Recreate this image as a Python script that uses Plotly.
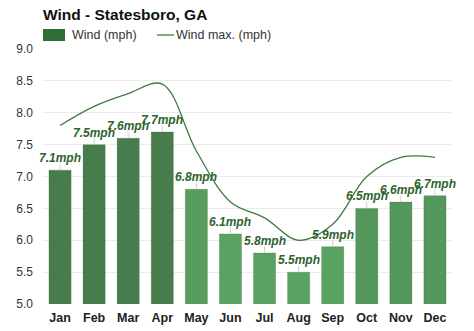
import plotly.graph_objects as go

months = ["Jan", "Feb", "Mar", "Apr", "May", "Jun", "Jul", "Aug", "Sep", "Oct", "Nov", "Dec"]
wind = [7.1, 7.5, 7.6, 7.7, 6.8, 6.1, 5.8, 5.5, 5.9, 6.5, 6.6, 6.7]
wind_max = [7.8, 8.1, 8.3, 8.45, 7.4, 6.6, 6.35, 6.0, 6.25, 7.0, 7.3, 7.3]
bar_colors = ["#477d4c", "#477d4c", "#477d4c", "#477d4c", "#589c5e", "#5aa262",
              "#5aa262", "#5aa262", "#5aa262", "#54975a", "#54975a", "#54975a"]
y_ticks = [5.0, 5.5, 6.0, 6.5, 7.0, 7.5, 8.0, 8.5, 9.0]
legend_labels = ["Wind (mph)", "Wind max. (mph)"]

W, H = 474, 331
L, R, T, B = 43, 22, 49, 27
PW, PH = W - L - R, H - T - B


def px(xp):
    return (xp - L) / PW


def py(yp):
    return (H - B - yp) / PH


fig = go.Figure()
fig.add_trace(go.Bar(
    x=months, y=wind, name=legend_labels[0],
    marker=dict(color=bar_colors, line=dict(color="rgba(40,80,40,0.35)", width=0.6)),
    error_y=dict(type="data", symmetric=False, array=[0.1] * 12, arrayminus=[0] * 12,
                 color="#cfcfcf", thickness=1, width=0),
    hoverinfo="skip",
))
fig.add_trace(go.Scatter(
    x=months, y=wind_max, name=legend_labels[1], mode="lines",
    line=dict(color="#3f7a3f", width=1.3, shape="spline", smoothing=1.0),
))
for m, v in zip(months, wind):
    fig.add_annotation(x=m, y=v, text=f"<b><i>{v:.1f}mph</i></b>", showarrow=False,
                       yshift=12, font=dict(size=12, color="#2e632e"))

# manual legend
fig.add_shape(type="rect", xref="paper", yref="paper",
              x0=px(43), x1=px(65), y0=py(41), y1=py(29),
              fillcolor="#2f6e34", line=dict(width=0))
fig.add_annotation(xref="paper", yref="paper", x=px(70), y=py(35), xanchor="left",
                   yanchor="middle", text=legend_labels[0], showarrow=False,
                   font=dict(size=12.5, color="#333333"))
fig.add_shape(type="line", xref="paper", yref="paper",
              x0=px(157), x1=px(174), y0=py(35), y1=py(35),
              line=dict(color="#3f7a3f", width=1.3))
fig.add_annotation(xref="paper", yref="paper", x=px(174), y=py(35), xanchor="left",
                   yanchor="middle", text=legend_labels[1], showarrow=False,
                   font=dict(size=12.5, color="#333333"))

fig.update_layout(
    width=W, height=H,
    margin=dict(l=L, r=R, t=T, b=B, autoexpand=False),
    paper_bgcolor="white", plot_bgcolor="white",
    font=dict(family="Liberation Sans, Arial, sans-serif", color="#333333", size=12),
    title=dict(text="<b>Wind - Statesboro, GA</b>", x=43 / W, xanchor="left",
               yref="container", y=1 - 15 / H, yanchor="middle",
               font=dict(size=15.5, color="#111111")),
    bargap=0.35,
    showlegend=False,
)
fig.update_xaxes(range=[-0.5, 11.5], showgrid=False, tickfont=dict(size=12.5, color="#222222"),
                 ticklabelstandoff=4, tickprefix="<b>", ticksuffix="</b>",
                 showline=False, zeroline=False)
fig.update_yaxes(range=[5.0, 9.0], tickvals=y_ticks, tickformat=".1f",
                 gridcolor="#ececec", gridwidth=1, zeroline=False, showline=False,
                 tickfont=dict(size=12, color="#333333"), ticklabelstandoff=9)

fig.write_html("out.html")
